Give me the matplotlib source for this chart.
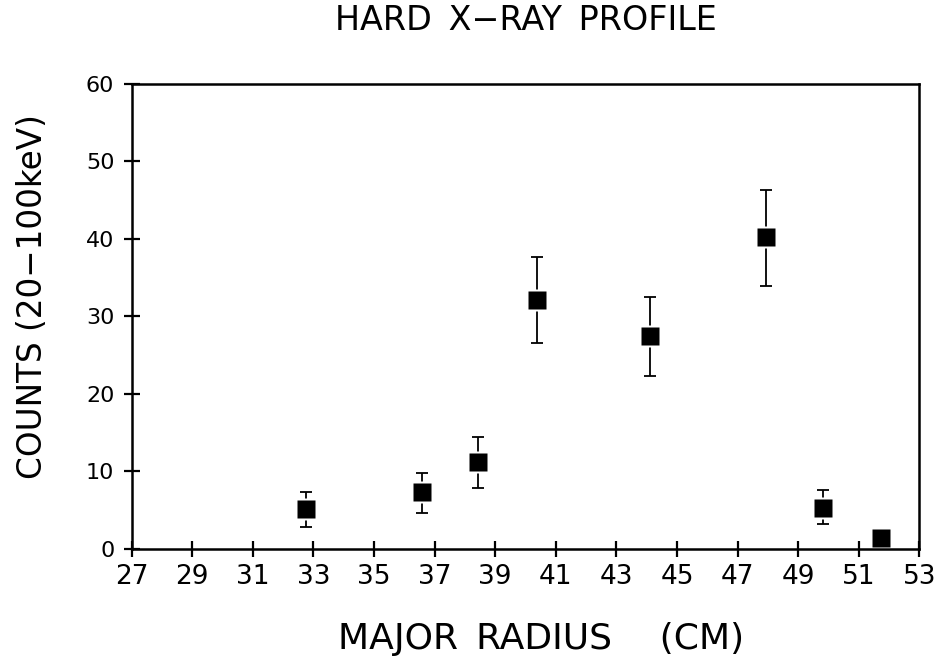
import matplotlib
matplotlib.use("Agg")
import matplotlib.pyplot as plt
import numpy as np

radius = [32.76, 36.59, 38.44, 40.39, 44.12, 47.95, 49.81, 51.72]
counts = [5.1, 7.3, 11.2, 32.1, 27.4, 40.2, 5.3, 1.4]
err_low = [2.9, 4.7, 7.9, 26.6, 22.3, 33.9, 3.2, 0.8]
err_high = [7.4, 9.8, 14.5, 37.6, 32.5, 46.3, 7.6, 2.0]

xticks = list(range(27, 54, 2))
yticks = [0, 10, 20, 30, 40, 50, 60]

counts_a = np.array(counts)
yerr = [counts_a - np.array(err_low), np.array(err_high) - counts_a]

fig = plt.figure(figsize=(9.37, 6.61), dpi=100)
ax = fig.add_axes([131.7/937, 1-549/661, (919.3-131.7)/937, (549-83.5)/661])

ax.errorbar(radius, counts, yerr=yerr, fmt='none', ecolor='black',
            elinewidth=1.3, capsize=4.5, capthick=1.3, zorder=2)
ax.plot(radius, counts, linestyle='none', marker='s', markersize=16.5,
        markerfacecolor='white', markeredgecolor='none', zorder=2.2)
ax.plot(radius, counts, linestyle='none', marker='s', markersize=12.6,
        markerfacecolor='black', markeredgecolor='none', zorder=3)

ax.set_xlim(27, 53)
ax.set_ylim(0, 60)
ax.set_xticks(xticks)
ax.set_yticks(yticks)
ax.set_xticklabels([str(t) for t in xticks], fontsize=19)
ax.set_yticklabels([str(t) for t in yticks], fontsize=16)
ax.tick_params(axis='both', direction='inout', length=11, width=1.6,
               colors='black', top=False, right=False)
ax.tick_params(axis='x', pad=5)
ax.tick_params(axis='y', pad=7)
for s in ax.spines.values():
    s.set_linewidth(1.8)
    s.set_color('black')

cx = 0.5*(131.7+919.3)/937
fig.text(cx, 1-20/661, "HARD\u2002X\u2212RAY\u2002PROFILE", ha='center',
         va='center', fontsize=24)
fig.text(cx + 16/937, 1-639/661, "MAJOR\u2002RADIUS \u2003(CM)",
         ha='center', va='center', fontsize=26)
fig.text(33/937, 1-297/661, "COUNTS (20\u2212100keV)", ha='center', va='center',
         rotation=90, fontsize=23.5)

fig.savefig("out.png", dpi=100, facecolor='white')
